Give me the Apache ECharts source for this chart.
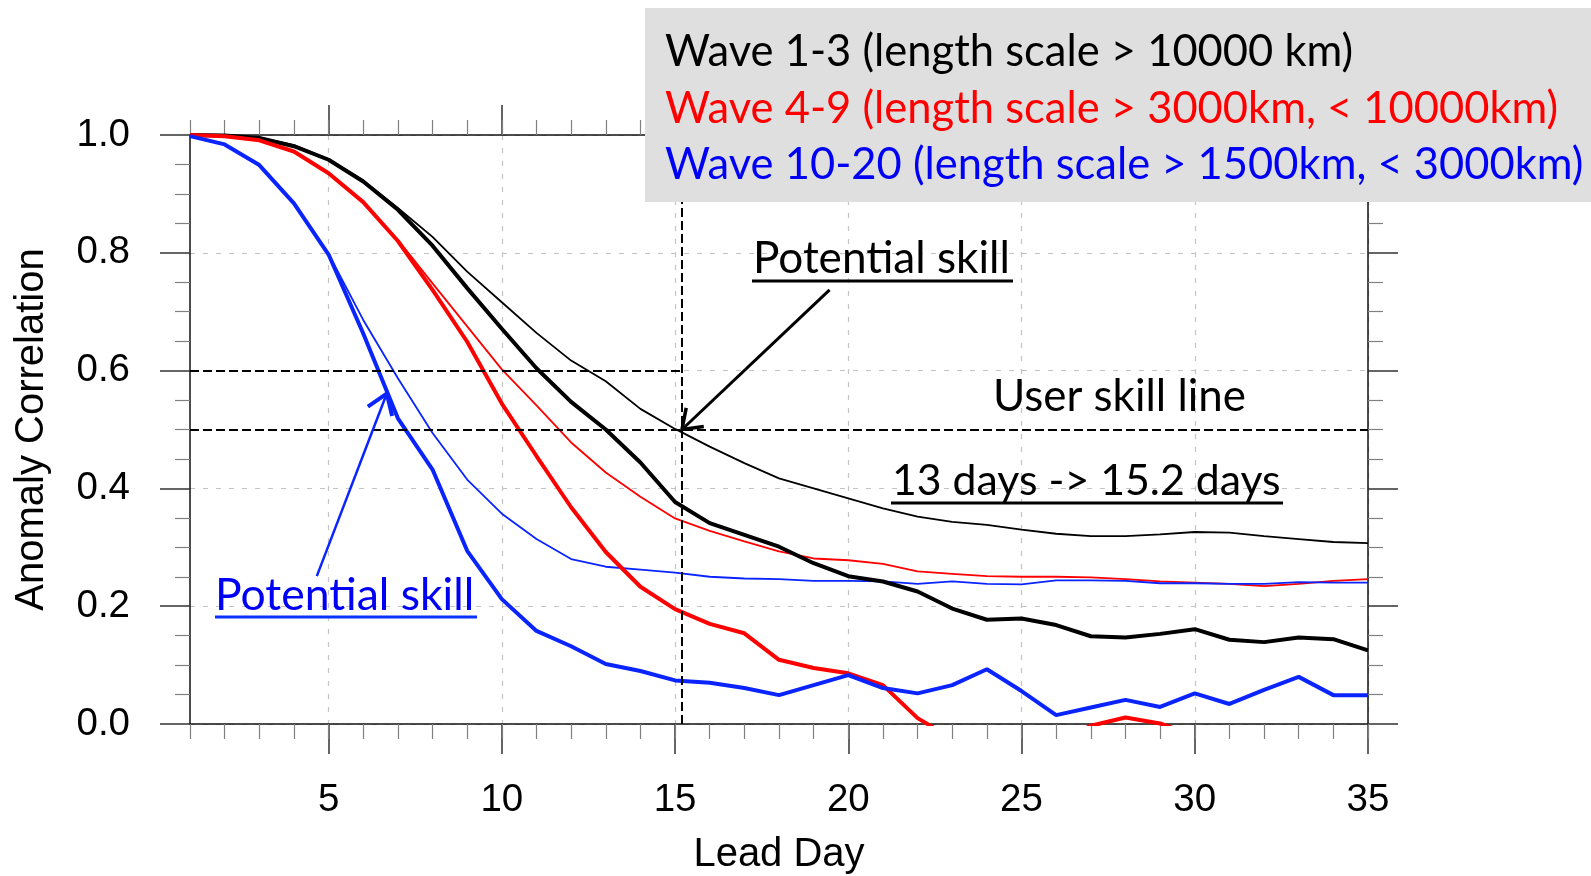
<!DOCTYPE html>
<html>
<head>
<meta charset="utf-8">
<title>Anomaly Correlation by Lead Day</title>
<script src="https://cdn.jsdelivr.net/npm/echarts@6.0.0/dist/echarts.min.js"></script>
<style>
  html, body { margin: 0; padding: 0; background: #fff; }
  #chart { width: 1591px; height: 876px; }
</style>
</head>
<body>
<div id="chart"></div>
<script>
// lead days on the x axis
var days = [1, 2, 3, 4, 5, 6, 7, 8, 9, 10, 11, 12, 13, 14, 15, 16, 17, 18, 19, 20,
            21, 22, 23, 24, 25, 26, 27, 28, 29, 30, 31, 32, 33, 34, 35];
var majorDays = [5, 10, 15, 20, 25, 30, 35];

// thick lines = actual skill, thin lines = potential skill
var wave13 = [1.000, 0.999, 0.995, 0.981, 0.958, 0.921, 0.873, 0.812, 0.740, 0.671,
              0.604, 0.547, 0.500, 0.444, 0.377, 0.341, 0.321, 0.301, 0.273, 0.251,
              0.242, 0.225, 0.196, 0.177, 0.179, 0.168, 0.149, 0.147, 0.153, 0.161,
              0.143, 0.139, 0.147, 0.144, 0.125];
var wave13Potential = [1.000, 0.999, 0.996, 0.983, 0.959, 0.923, 0.876, 0.827, 0.768, 0.716,
                       0.664, 0.617, 0.582, 0.535, 0.501, 0.471, 0.443, 0.417, 0.400, 0.383,
                       0.366, 0.352, 0.343, 0.338, 0.330, 0.323, 0.319, 0.319, 0.322, 0.326,
                       0.325, 0.319, 0.314, 0.309, 0.307];
var wave49 = [1.000, 0.998, 0.991, 0.972, 0.935, 0.886, 0.820, 0.737, 0.649, 0.544,
              0.455, 0.368, 0.292, 0.233, 0.195, 0.170, 0.154, 0.109, 0.095, 0.086,
              0.066, 0.010, -0.025, -0.040, -0.050, -0.030, -0.003, 0.011, 0.001, -0.020,
              -0.030, -0.040, -0.030, -0.040, -0.050];
var wave49Potential = [1.000, 0.998, 0.991, 0.972, 0.935, 0.887, 0.822, 0.748, 0.675, 0.602,
                       0.541, 0.478, 0.427, 0.386, 0.349, 0.328, 0.310, 0.293, 0.281, 0.278,
                       0.272, 0.259, 0.255, 0.251, 0.250, 0.250, 0.249, 0.246, 0.242, 0.240,
                       0.238, 0.234, 0.238, 0.243, 0.246];
var wave1020 = [0.998, 0.984, 0.949, 0.884, 0.797, 0.663, 0.519, 0.432, 0.294, 0.212,
                0.158, 0.132, 0.102, 0.090, 0.074, 0.070, 0.061, 0.049, 0.066, 0.083,
                0.061, 0.052, 0.066, 0.093, 0.056, 0.015, 0.028, 0.041, 0.029, 0.052,
                0.034, 0.058, 0.080, 0.049, 0.049];
var wave1020Potential = [0.998, 0.984, 0.949, 0.884, 0.798, 0.686, 0.587, 0.494, 0.415, 0.357,
                         0.314, 0.280, 0.267, 0.262, 0.257, 0.250, 0.247, 0.246, 0.243, 0.243,
                         0.242, 0.238, 0.242, 0.238, 0.237, 0.244, 0.244, 0.243, 0.239, 0.239,
                         0.238, 0.238, 0.241, 0.240, 0.240];

var legendLines = ["Wave 1-3 (length scale > 10000 km)",
                   "Wave 4-9 (length scale > 3000km, < 10000km)",
                   "Wave 10-20 (length scale > 1500km, < 3000km)"];

// user skill lines and the day where potential skill crosses 0.5
var userSkill = [0.6, 0.5];
var crossDay = 15.2;
// arrows: [start, tip] in [day, correlation]
var blackArrow = [[19.46, 0.737], [15.2, 0.5]];
var blueArrow = [[4.66, 0.251], [6.68, 0.561]];

var BLACK = "#000000", RED = "#ff0000", BLUE = "#0a24ff";
var axisFont = "Liberation Sans";
var noteFont = "Lato";

function toPairs(values) {
  return days.map(function (d, i) { return [d, values[i]]; });
}

function lineSeries(name, values, color, width) {
  return {
    name: name,
    type: "line",
    xAxisIndex: 0,
    yAxisIndex: 0,
    data: toPairs(values),
    symbol: "none",
    clip: true,
    silent: true,
    lineStyle: { color: color, width: width },
    itemStyle: { color: color }
  };
}

var majorLine = { show: true, onZero: false, lineStyle: { color: "#111", width: 1.5 } };
var majorTick = { length: 30, lineStyle: { color: "#333", width: 1.5 } };
var minorTickStyle = { color: "#808080", width: 1.2 };
var gridDash = { show: true, lineStyle: { color: "#c4c4c4", width: 1.2, type: [5, 8] } };

var chart = echarts.init(document.getElementById("chart"));

var series = [
  lineSeries("Wave 1-3 potential", wave13Potential, BLACK, 1.8),
  lineSeries("Wave 4-9 potential", wave49Potential, RED, 1.8),
  lineSeries("Wave 10-20 potential", wave1020Potential, BLUE, 1.8),
  lineSeries("Wave 1-3", wave13, BLACK, 4),
  lineSeries("Wave 4-9", wave49, RED, 4),
  lineSeries("Wave 10-20", wave1020, BLUE, 4)
];

// dashed user skill lines
series[3].markLine = {
  silent: true,
  symbol: "none",
  label: { show: false },
  lineStyle: { color: BLACK, width: 2, type: [9, 4] },
  data: [
    [{ coord: [1, userSkill[0]] }, { coord: [crossDay, userSkill[0]] }],
    [{ coord: [1, userSkill[1]] }, { coord: [35, userSkill[1]] }],
    [{ coord: [crossDay, 0] }, { coord: [crossDay, 1] }]
  ]
};

chart.setOption({
  animation: false,
  backgroundColor: "#fff",
  grid: [
    { left: 190, right: 223, top: 135, bottom: 152, outerBoundsMode: "none" },
    { left: 190, right: 223, top: 135, bottom: 152, outerBoundsMode: "none" }
  ],
  xAxis: [
    {
      gridIndex: 0, type: "value", min: 1, max: 35, position: "bottom",
      axisLine: majorLine,
      axisTick: { show: true, customValues: majorDays, length: majorTick.length, lineStyle: majorTick.lineStyle },
      axisLabel: { customValues: majorDays, margin: 57, fontSize: 38.5, fontFamily: axisFont, color: "#000" },
      splitLine: gridDash,
      name: "Lead Day", nameLocation: "middle", nameGap: 111,
      nameTextStyle: { fontSize: 40, fontFamily: axisFont, color: "#000" }
    },
    {
      gridIndex: 0, type: "value", min: 1, max: 35, position: "top",
      axisLine: majorLine,
      axisTick: { show: true, customValues: majorDays, length: majorTick.length, lineStyle: majorTick.lineStyle },
      axisLabel: { show: false },
      splitLine: { show: false }
    },
    {
      gridIndex: 1, type: "value", min: 1, max: 35, position: "bottom",
      axisLine: { show: false, onZero: false },
      axisTick: { show: true, customValues: days, length: 15, lineStyle: minorTickStyle },
      axisLabel: { show: false },
      splitLine: { show: false }
    },
    {
      gridIndex: 1, type: "value", min: 1, max: 35, position: "top",
      axisLine: { show: false, onZero: false },
      axisTick: { show: true, customValues: days, length: 15, lineStyle: minorTickStyle },
      axisLabel: { show: false },
      splitLine: { show: false }
    }
  ],
  yAxis: [
    {
      gridIndex: 0, type: "value", min: 0, max: 1, interval: 0.2, position: "left",
      axisLine: majorLine,
      axisTick: majorTick,
      minorTick: { show: true, splitNumber: 4, length: 15, lineStyle: minorTickStyle },
      axisLabel: {
        margin: 60, fontSize: 38.5, fontFamily: axisFont, color: "#000",
        formatter: function (v) { return v.toFixed(1); }
      },
      splitLine: gridDash,
      name: "Anomaly Correlation", nameLocation: "middle", nameRotate: 90, nameGap: 138,
      nameTextStyle: { fontSize: 40, fontFamily: axisFont, color: "#000" }
    },
    {
      gridIndex: 0, type: "value", min: 0, max: 1, interval: 0.2, position: "right",
      axisLine: majorLine,
      axisTick: majorTick,
      minorTick: { show: true, splitNumber: 4, length: 15, lineStyle: minorTickStyle },
      axisLabel: { show: false },
      splitLine: { show: false }
    },
    { gridIndex: 1, type: "value", min: 0, max: 1, show: false }
  ],
  series: series
});

// font size so that a text gets the width it has in the picture
var measureCtx = document.createElement("canvas").getContext("2d");
function fitSize(text, family, width) {
  measureCtx.font = "100px " + family;
  return Math.round(1000 * width / measureCtx.measureText(text).width) / 10;
}

function toPx(p) {
  return chart.convertToPixel({ seriesIndex: 0 }, p);
}

function arrowHead(tip, from, len, spread) {
  var dx = from[0] - tip[0], dy = from[1] - tip[1];
  var l = Math.sqrt(dx * dx + dy * dy);
  dx /= l; dy /= l;
  var c = Math.cos(spread), s = Math.sin(spread);
  return [
    [tip[0] + len * (dx * c - dy * s), tip[1] + len * (dx * s + dy * c)],
    tip,
    [tip[0] + len * (dx * c + dy * s), tip[1] + len * (-dx * s + dy * c)]
  ];
}

function note(text, x, y, width, color) {
  return {
    type: "text", z: 110, silent: true,
    style: {
      x: x, y: y, text: text, fill: color,
      font: fitSize(text, noteFont, width) + "px " + noteFont,
      align: "left", verticalAlign: "middle"
    }
  };
}

function underline(x1, x2, y, color) {
  return {
    type: "line", z: 110, silent: true,
    shape: { x1: x1, y1: y, x2: x2, y2: y },
    style: { stroke: color, lineWidth: 3 }
  };
}

var legendSize = fitSize(legendLines[2], noteFont, 919);
var legendColors = [BLACK, RED, "#0000f5"];
var legendY = [52, 108.5, 165];

var graphics = [
  {
    type: "rect", z: 100, silent: true,
    shape: { x: 645, y: 8, width: 946, height: 194 },
    style: { fill: "#dfdfdf" }
  }
];
legendLines.forEach(function (t, i) {
  graphics.push({
    type: "text", z: 110, silent: true,
    style: {
      x: 665, y: legendY[i], text: t, fill: legendColors[i],
      font: legendSize + "px " + noteFont, align: "left", verticalAlign: "middle"
    }
  });
});

// annotations
graphics.push(note("Potential skill", 753, 259, 257, BLACK));
graphics.push(underline(752, 1013, 281, BLACK));
graphics.push(note("User skill line", 993, 397, 253, BLACK));
graphics.push(note("13 days -> 15.2 days", 892, 481, 389, BLACK));
graphics.push(underline(891, 1283, 503, BLACK));
graphics.push(note("Potential skill", 215, 596, 259, "#0000f5"));
graphics.push(underline(215, 477, 617, "#0a30ff"));

// arrows
var bStart = toPx(blackArrow[0]), bTip = toPx(blackArrow[1]);
graphics.push({
  type: "line", z: 110, silent: true,
  shape: { x1: bStart[0], y1: bStart[1], x2: bTip[0], y2: bTip[1] },
  style: { stroke: BLACK, lineWidth: 3 }
});
graphics.push({
  type: "polyline", z: 110, silent: true,
  shape: { points: arrowHead(bTip, bStart, 22, 0.62) },
  style: { stroke: BLACK, lineWidth: 3.5, fill: null }
});
var uStart = toPx(blueArrow[0]), uTip = toPx(blueArrow[1]);
graphics.push({
  type: "line", z: 110, silent: true,
  shape: { x1: uStart[0], y1: uStart[1], x2: uTip[0], y2: uTip[1] },
  style: { stroke: BLUE, lineWidth: 2.5 }
});
graphics.push({
  type: "polyline", z: 110, silent: true,
  shape: { points: arrowHead(uTip, uStart, 23, 0.6) },
  style: { stroke: BLUE, lineWidth: 4, fill: null }
});

chart.setOption({ graphic: graphics });
</script>
</body>
</html>
